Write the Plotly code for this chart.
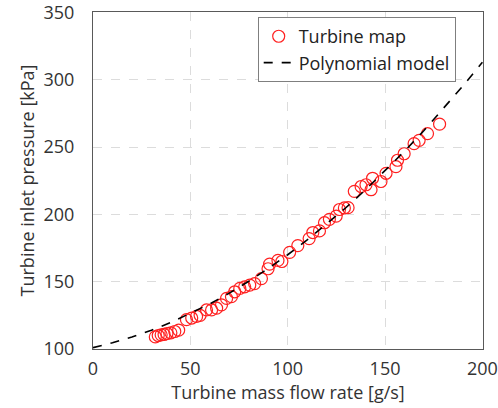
import plotly.graph_objects as go

# Measured turbine map: mass flow rate [g/s] vs inlet pressure [kPa]
map_flow = [32, 33.5, 35, 36.5, 38, 40, 42, 44,
            48, 50.7, 53.2, 55, 58.3, 60.9, 63.5, 66, 68.6, 71.1, 72.8, 75.4,
            77.9, 80.5, 83, 86.5, 89.9, 90.7, 95, 97, 101, 105.2, 111, 112.9,
            116.3, 118.9, 121.4, 124.9, 126.6, 129.1, 131, 134.2, 137.7, 140.2,
            142.8, 143.6, 147.9, 150.5, 155.6, 156.4, 159.8, 164.9, 167.5,
            171.8, 178]
map_pressure = [109, 110, 110.5, 110.8, 111.5, 112, 113, 114,
                121.8, 123, 124.2, 125, 129, 129, 130.3, 132.8, 137.6, 138.9, 142.5, 145,
                146.2, 147.4, 148.6, 152.3, 159.6, 163, 165.8, 165, 171.8, 176.8, 182, 186.5,
                187.7, 193.8, 196.3, 198.7, 203.6, 204.8, 205, 217.1, 220.7, 222,
                218.3, 226.8, 224.4, 230.5, 235.4, 240.2, 245, 252.5, 255,
                260, 267]

# Polynomial model curve
model_flow = [0, 10, 20, 30, 40, 50, 60, 70, 80, 90, 100,
              110, 120, 130, 140, 150, 160, 170, 180, 190, 200]
model_pressure = [101, 104.6, 108.9, 113.9, 119.7, 126.3, 133.5, 141.5, 150.3, 159.8, 170,
                  181, 192.7, 205.1, 218.3, 232.3, 246.9, 262.3, 278.5, 295.4, 313]

x_ticks = [0, 50, 100, 150, 200]
y_ticks = [100, 150, 200, 250, 300, 350]

FONT = "Open Sans"
TXT = "#333333"

fig = go.Figure()
fig.add_trace(go.Scatter(
    x=map_flow, y=map_pressure, mode="markers", name="Turbine map",
    marker=dict(symbol="circle-open", size=12, color="#ff2020",
                line=dict(width=1.2, color="#ff2020")),
))
fig.add_trace(go.Scatter(
    x=model_flow, y=model_pressure, mode="lines", name="Polynomial model",
    line=dict(color="black", width=1.6, dash="dash"),
))

axis_common = dict(
    showline=True, linecolor="#595959", linewidth=1.2, mirror=True,
    showgrid=True, gridcolor="#dcdcdc", griddash="dash", gridwidth=1,
    zeroline=False, ticks="", ticklabeloverflow="allow", automargin=False,
    tickfont=dict(family=FONT, size=18, color=TXT),
)

fig.update_layout(
    width=498, height=408,
    margin=dict(l=93, r=15, t=12, b=59),
    paper_bgcolor="white", plot_bgcolor="white",
    font=dict(family=FONT, color=TXT),
    showlegend=True,
    legend=dict(
        x=0.93, y=0.985, xanchor="right", yanchor="top",
        bgcolor="white", bordercolor="#7f7f7f", borderwidth=1,
        font=dict(family=FONT, size=18, color="#222222"),
        tracegroupgap=0, itemwidth=30,
    ),
    xaxis=dict(range=[0, 200.3], tickvals=x_ticks, ticklabelstandoff=3,
               title=dict(text="Turbine mass flow rate [g/s]",
                          font=dict(family=FONT, size=18, color=TXT), standoff=0),
               **axis_common),
    yaxis=dict(range=[100, 350.3], tickvals=y_ticks, ticklabelstandoff=14,
               title=dict(text="Turbine inlet pressure [kPa]",
                          font=dict(family=FONT, size=18, color=TXT), standoff=4),
               **axis_common),
)

fig.write_html("out.html")
